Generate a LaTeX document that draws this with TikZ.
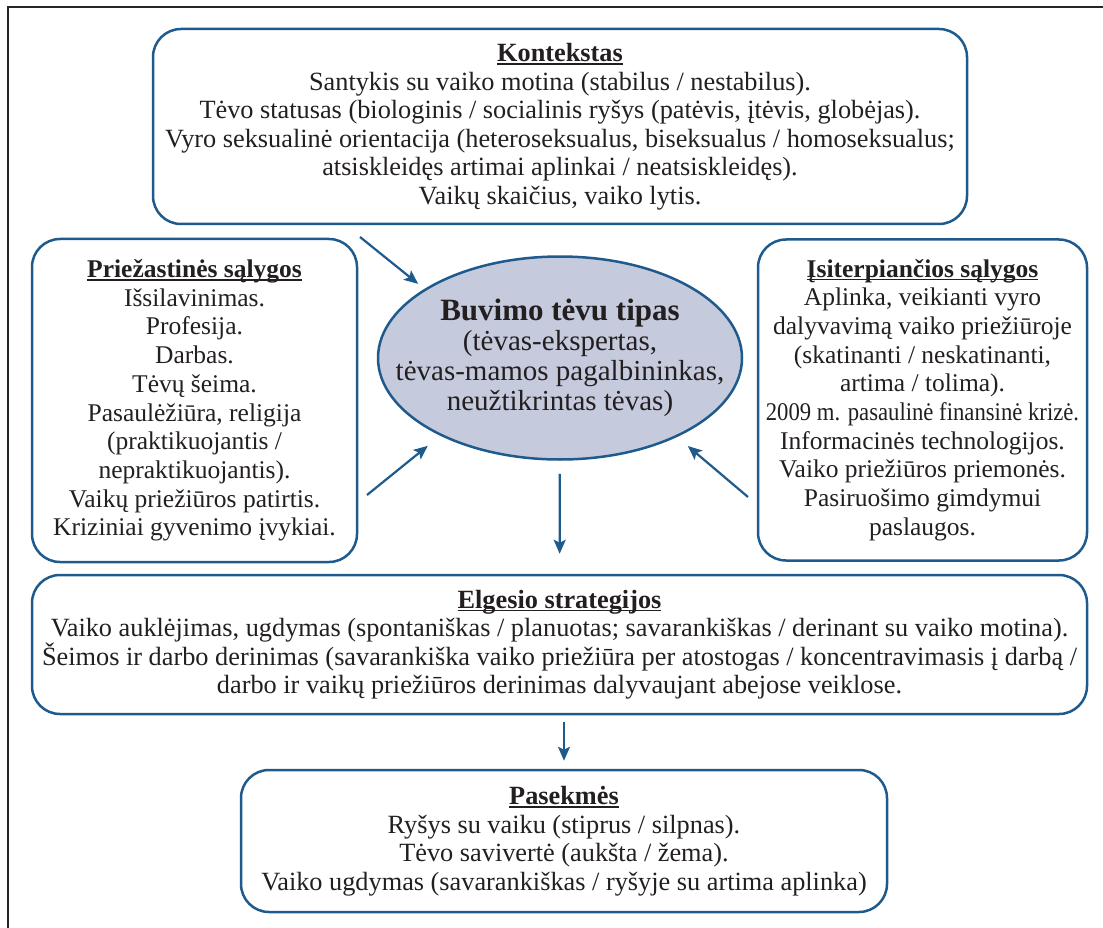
\documentclass[tikz,border=0pt]{standalone}
\usepackage{fontspec}
\setmainfont{Liberation Serif}
\usepackage{graphicx}
\usetikzlibrary{shapes.geometric,arrows.meta}
\definecolor{bblue}{HTML}{1F5A8C}
\definecolor{efill}{HTML}{C5CADC}
\definecolor{ink}{HTML}{231F20}
\newcommand{\txt}{\fontsize{25.5}{28.7}\selectfont}
\newcommand{\txtb}{\fontsize{26.3}{28.5}\selectfont}
\newcommand{\hd}[1]{\leavevmode\setbox0\hbox{\bfseries #1}\rlap{\rule[-3pt]{\wd0}{1.3pt}}\box0}

\begin{document}
\begin{tikzpicture}[x=1pt,y=-1pt,
  box/.style={draw=bblue,line width=2.5pt,rounded corners=28pt,align=center,
    inner sep=0pt,text=ink,font=\txt},
  arr/.style={draw=bblue,line width=2.2pt,-{Stealth[length=14pt,width=12pt,inset=3pt]}}]
\useasboundingbox (0,0) rectangle (1103,928);
\draw[line width=1.5pt,draw=black!85] (8,928) -- (8,7) -- (1103,7);
%
\node[box,font=\txtb,minimum width=814,minimum height=195] (kont) at (560,126.5)
  {\hd{Kontekstas}\\
   Santykis su vaiko motina (stabilus / nestabilus).\\
   Tėvo statusas (biologinis / socialinis ryšys (patėvis, įtėvis, globėjas).\\
   Vyro seksualinė orientacija (heteroseksualus, biseksualus / homoseksualus;\\
   atsiskleidęs artimai aplinkai / neatsiskleidęs).\\
   Vaikų skaičius, vaiko lytis.};
\node[box,minimum width=325,minimum height=323] (prie) at (194.5,400.5)
  {\hd{Priežastinės sąlygos}\\
   Išsilavinimas.\\ Profesija.\\ Darbas.\\ Tėvų šeima.\\
   Pasaulėžiūra, religija\\ (praktikuojantis /\\ nepraktikuojantis).\\
   Vaikų priežiūros patirtis.\\ Kriziniai gyvenimo įvykiai.};
\node[box,minimum width=329,minimum height=321] (isit) at (922.5,400)
  {\hd{Įsiterpiančios sąlygos}\\
   Aplinka, veikianti vyro\\ dalyvavimą vaiko priežiūroje\\
   (skatinanti / neskatinanti,\\ artima / tolima).\\
   \scalebox{0.89}[1]{2009 m. pasaulinė finansinė krizė.}\\
   Informacinės technologijos.\\ Vaiko priežiūros priemonės.\\
   Pasiruošimo gimdymui\\ paslaugos.};
\node[ellipse,draw=bblue,line width=2.5pt,fill=efill,inner sep=0pt,
  minimum width=364,minimum height=203] (ell) at (560,358) {};
\node[text=ink,align=center,inner sep=0pt,font=\fontsize{29}{30}\selectfont]
  (tipas) at (ell.center)
  {{\fontsize{31}{32}\selectfont\bfseries Buvimo tėvu tipas}\\
   (tėvas-ekspertas,\\ tėvas-mamos pagalbininkas,\\ neužtikrintas tėvas)};
\node[box,font=\txtb,minimum width=1055,minimum height=139] (elg) at (559.5,644.5)
  {\hd{Elgesio strategijos}\\
   Vaiko auklėjimas, ugdymas (spontaniškas / planuotas; savarankiškas / derinant su vaiko motina).\\
   Šeimos ir darbo derinimas (savarankiška vaiko priežiūra per atostogas / koncentravimasis į darbą /\\
   darbo ir vaikų priežiūros derinimas dalyvaujant abejose veiklose.};
\node[box,font=\txtb,minimum width=646,minimum height=142] (pas) at (564,841)
  {\hd{Pasekmės}\\
   Ryšys su vaiku (stiprus / silpnas).\\
   Tėvo savivertė (aukšta / žema).\\
   Vaiko ugdymas (savarankiškas / ryšyje su artima aplinka)};
%
\coordinate (k1) at (360,237);
\coordinate (p1) at (367,495);
\coordinate (i1) at (748,497);
\draw[arr,shorten >=8pt] (k1) -- (ell.153);
\draw[arr,shorten >=16pt] (p1) -- (ell.213);
\draw[arr,shorten >=14pt] (i1) -- (ell.326);
\draw[arr,shorten <=13pt,shorten >=20pt] (ell) -- (elg);
\draw[arr,shorten <=7pt,shorten >=8pt] (pas.north |- elg.south) -- (pas.north);
\end{tikzpicture}
\end{document}
